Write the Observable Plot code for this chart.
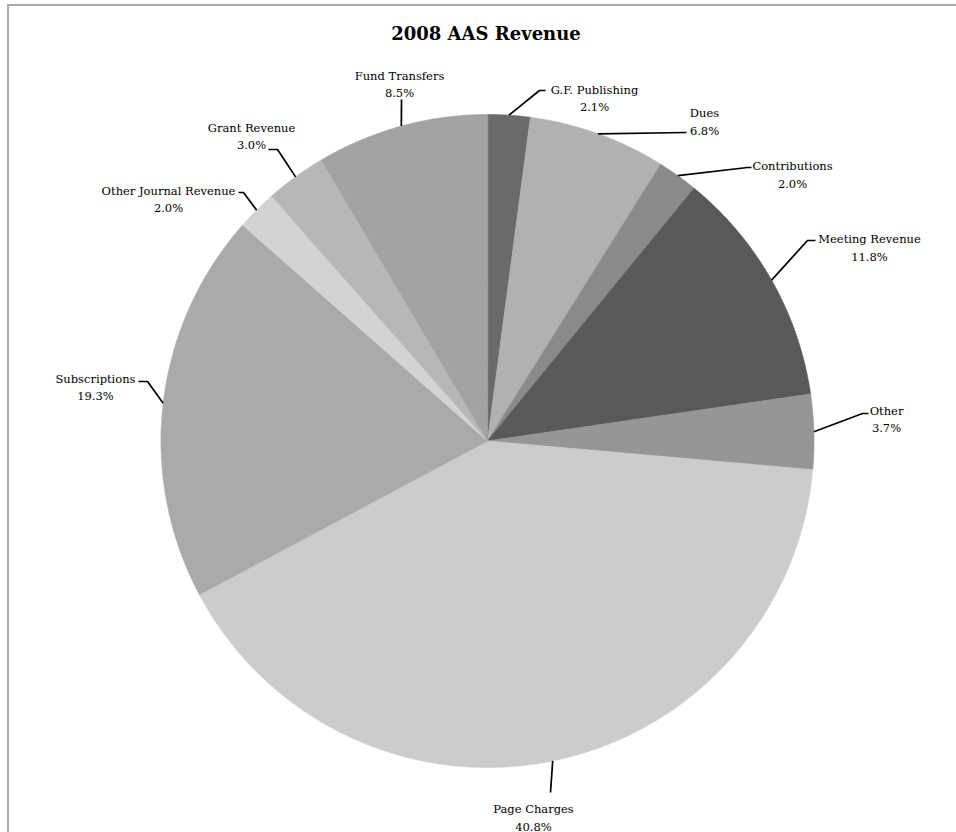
<!DOCTYPE html>
<html>
<head>
<meta charset="utf-8">
<script src="https://cdn.jsdelivr.net/npm/d3@7"></script>
<script src="https://cdn.jsdelivr.net/npm/@observablehq/plot@0.6"></script>
<style>
  html, body { margin: 0; padding: 0; background: #fff; overflow: hidden; }
  #frame {
    position: absolute; left: 7px; top: 4px; width: 980px; height: 900px;
    border-top: 2px solid #a9a9a9; border-left: 2px solid #a9a9a9;
  }
  #title {
    width: 947px; box-sizing: border-box; padding-left: 7px; padding-top: 17px; height: 44px;
    text-align: center; font-family: "DejaVu Serif", serif; font-weight: bold; font-size: 18px; color: #000;
  }
  #chart svg { display: block; }
</style>
</head>
<body>
<div id="frame">
  <div id="title">2008 AAS Revenue</div>
  <div id="chart"></div>
</div>
<script>
// ---- data ----
const names = ["G.F. Publishing", "Dues", "Contributions", "Meeting Revenue", "Other",
               "Page Charges", "Subscriptions", "Other Journal Revenue", "Grant Revenue", "Fund Transfers"];
const shares = [2.1, 6.8, 2.0, 11.8, 3.7, 40.8, 19.3, 2.0, 3.0, 8.5];
const colors = ["#6a6a6a", "#b1b1b1", "#8a8a8a", "#595959", "#969696",
                "#cccccc", "#aaaaaa", "#d3d3d3", "#b7b7b7", "#a3a3a3"];

// ---- layout (pixel offsets from pie centre, y downward) ----
const R = 326.5;
const labelElbows = [
  [[52, -350.5], [58, -350.5]],
  [[199, -308.5]],
  [[260, -273.5], [264, -273.5]],
  [[320, -200.5], [328, -200.5]],
  [[375, -27.5], [381, -27.5]],
  [[63, 351.5]],
  [[-340, -59.5], [-349, -59.5]],
  [[-244, -248.5], [-249, -248.5]],
  [[-210, -291.5], [-219, -291.5]],
  [[-86, -341.5]]
];
const labelCenters = [
  [107, -344], [217, -320.5], [305, -267.5], [382, -194.5], [399, -23],
  [46, 375.5], [-392, -55], [-319, -243], [-236, -306], [-88, -358]
];

const W = 947, H = 800, CX = 478, CY = 390.5;

const arcs = d3.pie().sort(null).value(d => d)(shares);

// slice polygons
const slicePts = [];
arcs.forEach((a, i) => {
  slicePts.push({name: names[i], x: 0, y: 0});
  const n = Math.max(4, Math.ceil((a.endAngle - a.startAngle) / (Math.PI / 360)));
  for (let k = 0; k <= n; k++) {
    const t = a.startAngle + (a.endAngle - a.startAngle) * k / n;
    slicePts.push({name: names[i], x: R * Math.sin(t), y: -R * Math.cos(t)});
  }
});

// leader lines
const leaderPts = [];
arcs.forEach((a, i) => {
  const m = (a.startAngle + a.endAngle) / 2;
  leaderPts.push({name: names[i], x: R * Math.sin(m), y: -R * Math.cos(m)});
  labelElbows[i].forEach(([x, y]) => leaderPts.push({name: names[i], x, y}));
});

const labels = names.map((name, i) => ({
  text: `${name}\n${shares[i].toFixed(1)}%`,
  x: labelCenters[i][0], y: labelCenters[i][1]
}));

const plot = Plot.plot({
  width: W, height: H,
  margin: 0, inset: 0,
  x: {domain: [-CX, W - CX], range: [0, W], axis: null},
  y: {domain: [-CY, H - CY], range: [0, H], axis: null},
  color: {domain: names, range: colors},
  style: {background: "transparent"},
  marks: [
    Plot.line(slicePts, {x: "x", y: "y", z: "name", fill: "name", stroke: "name", strokeWidth: 0.6, curve: "linear-closed"}),
    Plot.line(leaderPts, {x: "x", y: "y", z: "name", stroke: "#000", strokeWidth: 1.7, strokeLinecap: "butt", strokeLinejoin: "miter", curve: "linear"}),
    Plot.text(labels, {x: "x", y: "y", text: "text", textAnchor: "middle", lineAnchor: "middle", lineHeight: 1.5,
      fontSize: 11.5, fontFamily: "DejaVu Serif", fill: "#000"})
  ]
});
document.getElementById("chart").appendChild(plot);
</script>
</body>
</html>
